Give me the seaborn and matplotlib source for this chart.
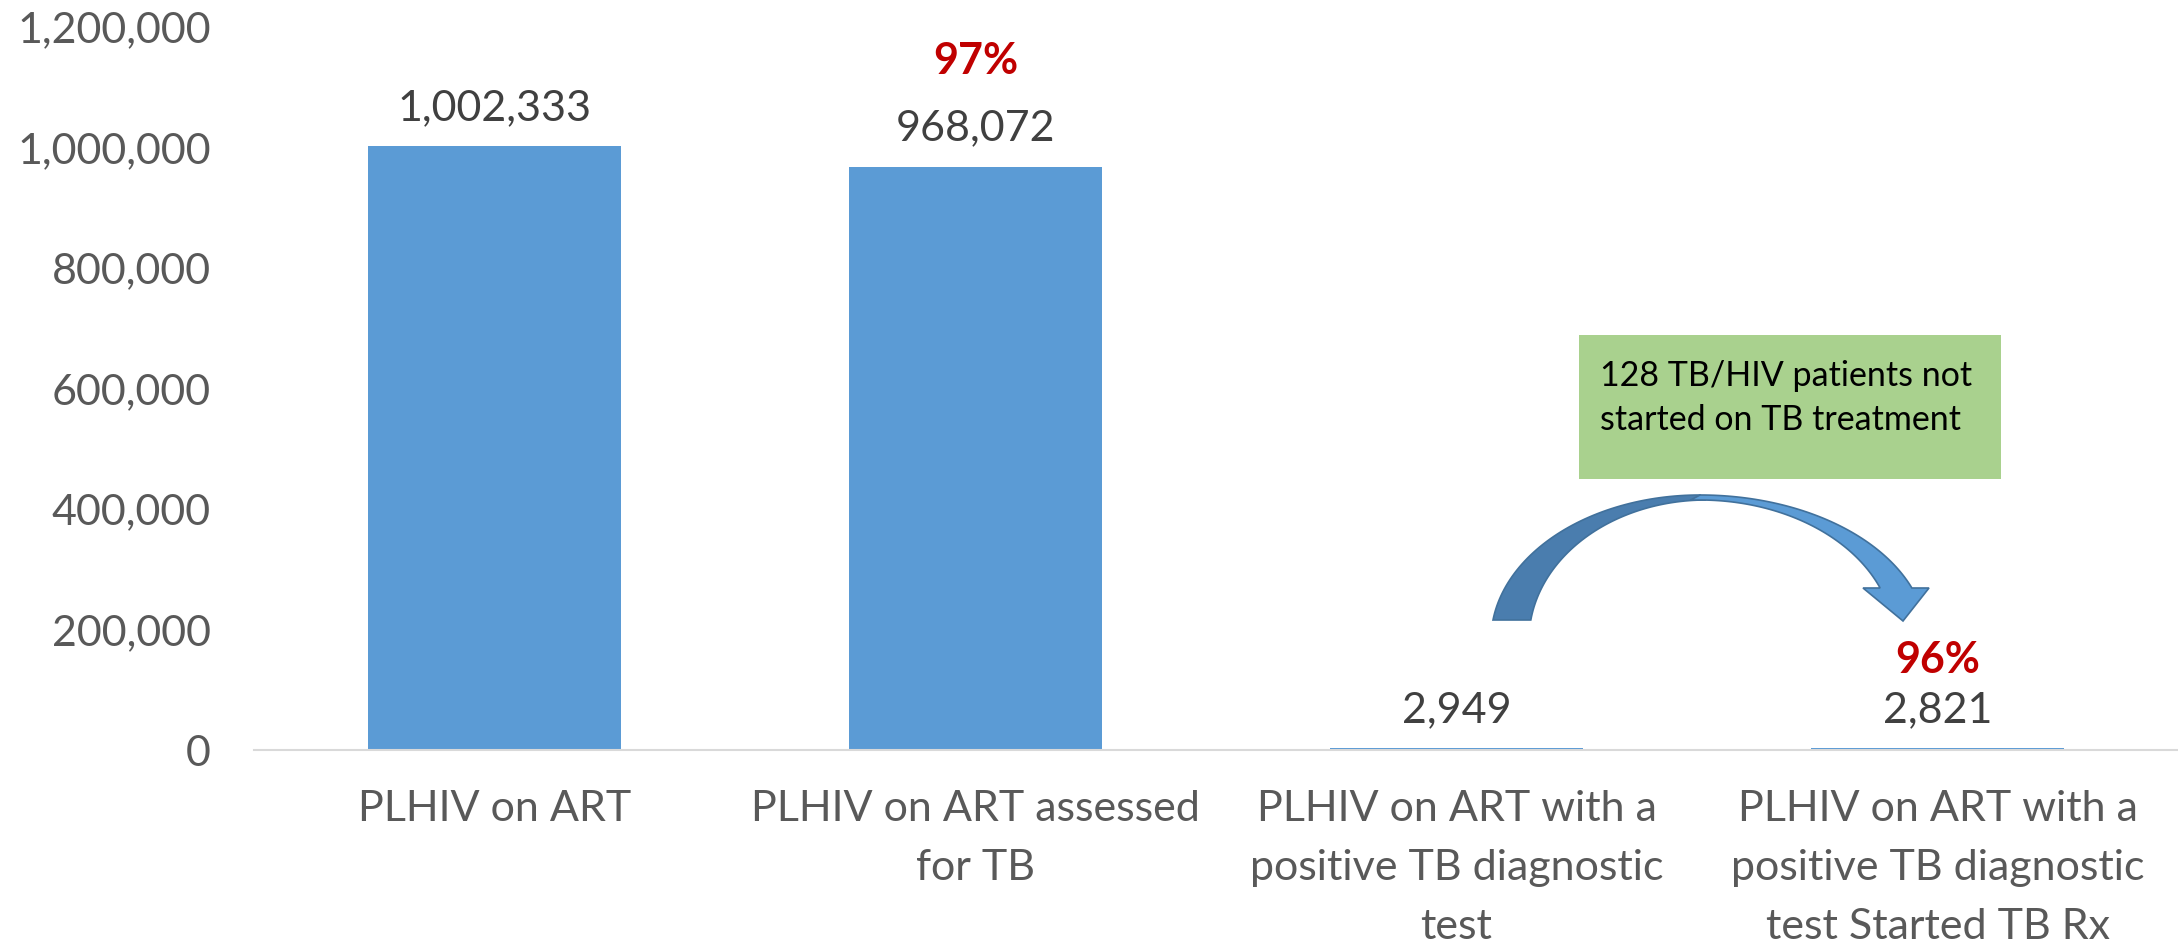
import numpy as np
import matplotlib
matplotlib.use("Agg")
import matplotlib.pyplot as plt
import seaborn as sns
from matplotlib.patches import Polygon
from matplotlib.transforms import Affine2D
from matplotlib.ticker import FuncFormatter

# ---- data ----
categories = [
    "PLHIV on ART",
    "PLHIV on ART assessed\nfor TB",
    "PLHIV on ART with a\npositive TB diagnostic\ntest",
    "PLHIV on ART with a\npositive TB diagnostic\ntest Started TB Rx",
]
values = [1002333, 968072, 2949, 2821]
pct_labels = ["", "97%", "", "96%"]
y_ticks = [0, 200000, 400000, 600000, 800000, 1000000, 1200000]
note_text = "128 TB/HIV patients not\nstarted on TB treatment"

# ---- style ----
sns.set_theme(style="white")
plt.rcParams["font.family"] = ["Lato", "DejaVu Sans"]

W, H = 2178, 949
fig = plt.figure(figsize=(W / 100, H / 100), dpi=100)
ax = fig.add_axes([254 / W, 1 - 750 / H, 1 - 254 / W, (750 - 27) / H])

sns.barplot(x=categories, y=values, color="#5B9BD5", saturation=1,
            width=0.526, ax=ax, edgecolor="none")

ax.set_ylim(0, 1200000)
ax.set_xlim(-0.5, 3.5)
ax.set_yticks(y_ticks)
ax.yaxis.set_major_formatter(FuncFormatter(lambda v, p: f"{int(v):,}"))
ax.tick_params(axis="y", length=0, pad=31, labelsize=31, labelcolor="#595959")
ax.tick_params(axis="x", length=0, pad=29, labelsize=31, labelcolor="#595959")
for lab in ax.get_xticklabels():
    lab.set_linespacing(1.68)
ax.set_xlabel("")
ax.set_ylabel("")
for s in ["top", "right", "left"]:
    ax.spines[s].set_visible(False)
ax.spines["bottom"].set_color("#D9D9D9")
ax.spines["bottom"].set_linewidth(1.5)
ax.grid(False)

# value labels
for i, v in enumerate(values):
    ax.annotate(f"{v:,}", (i, v), xytext=(0, 19), textcoords="offset points",
                ha="center", va="baseline", fontsize=31, color="#404040")

pct_offsets = [0, 67, 0, 54]
for i, (v, p) in enumerate(zip(values, pct_labels)):
    if p:
        ax.annotate(p, (i, v), xytext=(0, pct_offsets[i]), textcoords="offset points",
                    ha="center", va="baseline", fontsize=31, fontweight="bold",
                    color="#C00000")

# ---- annotation box and curved arrow (pixel coordinates, origin top-left) ----
px = Affine2D().scale(1 / W, -1 / H).translate(0, 1) + fig.transFigure

box = Polygon([(1579, 335), (2001, 335), (2001, 479), (1579, 479)], closed=True,
              facecolor="#A9D18E", edgecolor="none", transform=px)
fig.add_artist(box)
fig.text(1600, 360, note_text, transform=px, ha="left", va="top",
         fontsize=24.5, color="black", linespacing=1.45)

cx, cy = 1700.0, 640.0
b_o, b_i = 145.0, 140.0
# left (dark) half
a_ol, a_il = 209.0, 177.0
t_o = np.linspace(np.pi - np.arcsin(20 / b_o), np.pi / 2, 60)
t_i = np.linspace(np.pi / 2, np.pi - np.arcsin(20 / b_i), 60)
left_pts = np.vstack([
    np.column_stack([cx + a_ol * np.cos(t_o), cy - b_o * np.sin(t_o)]),
    np.column_stack([cx + a_il * np.cos(t_i) + 6, cy - b_i * np.sin(t_i)]),
])
# right (light) half
a_or, a_ir = 227.0, 194.0
t_o2 = np.linspace(np.pi / 2, np.arcsin(52 / b_o), 60)
t_i2 = np.linspace(np.arcsin(52 / b_i), np.pi / 2 + 0.05, 60)
outer_r = np.column_stack([cx + a_or * np.cos(t_o2), cy - b_o * np.sin(t_o2)])
inner_r = np.column_stack([cx + a_ir * np.cos(t_i2), cy - b_i * np.sin(t_i2)])
head = np.array([[1929, 588], [1903, 621], [1863, 588]])
right_pts = np.vstack([outer_r, head, inner_r])

fig.add_artist(Polygon(left_pts, closed=True, facecolor="#4A7DAE",
                       edgecolor="#41719C", lw=1.2, transform=px))
fig.add_artist(Polygon(right_pts, closed=True, facecolor="#5B9BD5",
                       edgecolor="#41719C", lw=1.2, transform=px))

fig.savefig("out.png", dpi=100, facecolor="white")
